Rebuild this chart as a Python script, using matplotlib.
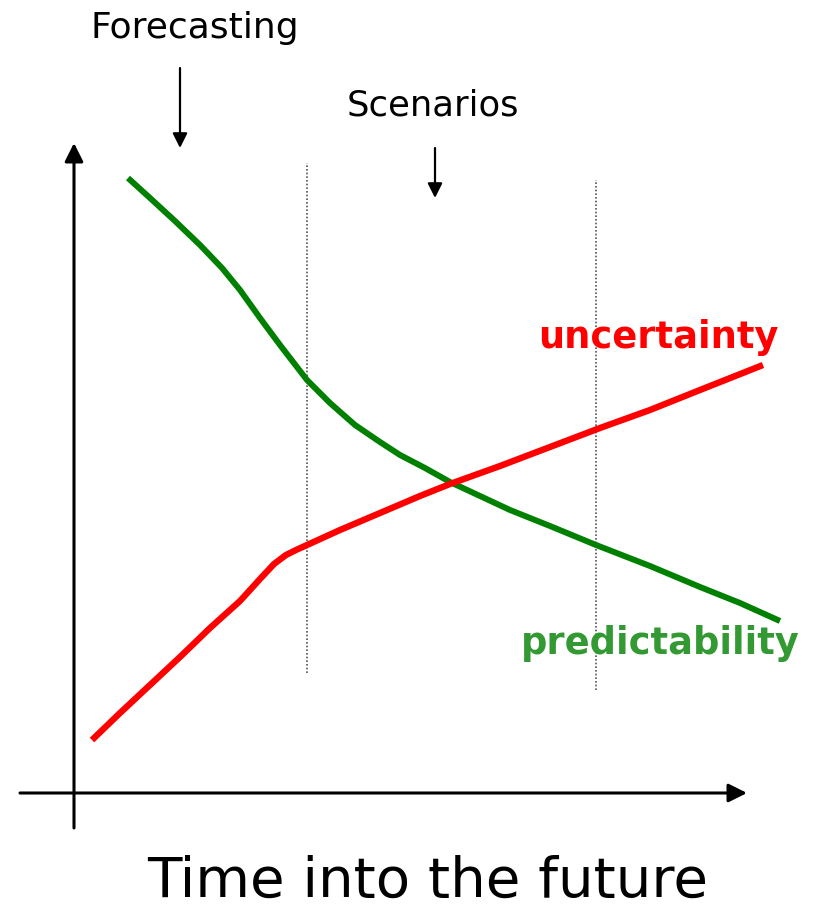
import matplotlib

matplotlib.use("Agg")
import matplotlib.pyplot as plt

# curves (time from the y axis, level above the x axis)
predictability_time = [54, 76, 101, 126, 148, 166, 186, 206, 233, 256, 281, 306,
                       326, 351, 376, 406, 436, 476, 522, 576, 626, 666, 706]
predictability_level = [615, 595, 572, 548, 525, 503, 475, 448, 413, 390, 368, 351,
                        338, 325, 311, 297, 283, 267, 248, 227, 206, 190, 172]
uncertainty_time = [18, 46, 76, 106, 136, 166, 186, 200, 212, 222, 233, 266, 306,
                    346, 376, 426, 476, 526, 576, 626, 689]
uncertainty_level = [53, 80, 108, 136, 165, 192, 214, 229, 238, 243, 248, 263, 280,
                     297, 309, 327, 346, 365, 383, 403, 428]

divider_time = [233, 522]
divider_top = [630, 613]
divider_bottom = [120, 103]

x_label = "Time into the future"
curve_labels = ["uncertainty", "predictability"]

RED = "#ff0000"
GREEN_LINE = "#008000"
GREEN_TEXT = "#339933"

fig = plt.figure(figsize=(8.17, 9.11), dpi=100)
ax = fig.add_axes([0, 0, 1, 1])
ax.set_xlim(-74, 743)
ax.set_ylim(-118, 793)
ax.axis("off")

# axes with arrow heads
ax.annotate("", xy=(673, 0), xytext=(-54, 0),
            arrowprops=dict(arrowstyle="-|>", color="black", lw=2.2,
                            mutation_scale=28, shrinkA=0, shrinkB=0))
ax.annotate("", xy=(0, 650), xytext=(0, -35),
            arrowprops=dict(arrowstyle="-|>", color="black", lw=2.2,
                            mutation_scale=28, shrinkA=0, shrinkB=0))

for t, top, bottom in zip(divider_time, divider_top, divider_bottom):
    ax.plot([t, t], [bottom, top], color="#555555", lw=1.2, linestyle=(0, (1, 1.2)))

ax.plot(predictability_time, predictability_level, color=GREEN_LINE, lw=4.3,
        solid_capstyle="butt", solid_joinstyle="round")
ax.plot(uncertainty_time, uncertainty_level, color=RED, lw=4.6,
        solid_capstyle="butt", solid_joinstyle="round")

# pointers to the two approaches
ax.annotate("", xy=(106, 645), xytext=(106, 725),
            arrowprops=dict(arrowstyle="-|>", color="black", lw=1.6,
                            mutation_scale=22, shrinkA=0, shrinkB=0))
ax.annotate("", xy=(361, 595), xytext=(361, 645),
            arrowprops=dict(arrowstyle="-|>", color="black", lw=1.6,
                            mutation_scale=22, shrinkA=0, shrinkB=0))

ax.text(121, 765, "Forecasting", ha="center", va="center", fontsize=26)
ax.text(359, 688, "Scenarios", ha="center", va="center", fontsize=25.5)
ax.text(584, 456, curve_labels[0], ha="center", va="center", fontsize=26.5,
        fontweight="bold", color=RED)
ax.text(586, 150, curve_labels[1], ha="center", va="center", fontsize=26.5,
        fontweight="bold", color=GREEN_TEXT)
ax.text(354, -89, x_label, ha="center", va="center", fontsize=40.5)

fig.savefig("out.png", dpi=100)
